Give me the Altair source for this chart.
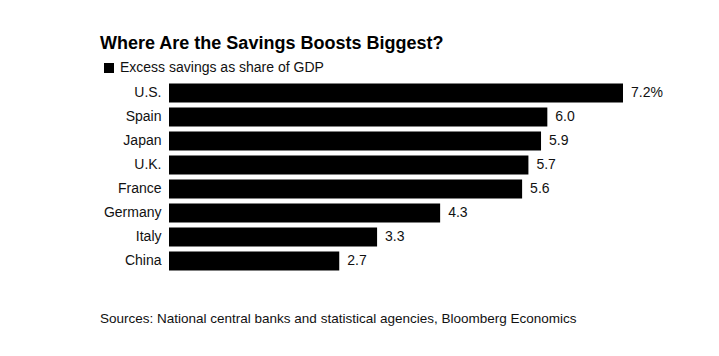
import altair as alt
import pandas as pd

countries = ["U.S.", "Spain", "Japan", "U.K.", "France", "Germany", "Italy", "China"]
values = [7.2, 6.0, 5.9, 5.7, 5.6, 4.3, 3.3, 2.7]
value_labels = ["7.2%", "6.0", "5.9", "5.7", "5.6", "4.3", "3.3", "2.7"]
series_name = "Excess savings as share of GDP"
title_text = "Where Are the Savings Boosts Biggest?"
source_text = "Sources: National central banks and statistical agencies, Bloomberg Economics"

FONT = "Liberation Sans"

df = pd.DataFrame({
    "country": countries,
    "value": values,
    "label": value_labels,
    "series": [series_name] * len(countries),
})

W, H = 454, 192

y_enc = alt.Y(
    "country:N",
    sort=countries,
    title=None,
    scale=alt.Scale(paddingInner=0.21, paddingOuter=0.1),
    axis=alt.Axis(ticks=False, domain=False, labelPadding=8, labelFontSize=14,
                  labelColor="#111111", labelFont=FONT, grid=False),
)
x_enc = alt.X("value:Q", scale=alt.Scale(domain=[0, 7.2], nice=False), axis=None)

bars = alt.Chart(df).mark_bar(color="black").encode(
    x=x_enc,
    y=y_enc,
    color=alt.Color(
        "series:N",
        scale=alt.Scale(range=["black"]),
        legend=alt.Legend(
            title=None, orient="none", legendX=-67, legendY=-20,
            symbolType="square", symbolSize=100, symbolStrokeWidth=0,
            labelFontSize=14, labelFont=FONT, labelColor="#111111",
            labelOffset=4, padding=0, labelLimit=0,
        ),
    ),
)

labels = alt.Chart(df).mark_text(
    align="left", baseline="middle", dx=8, fontSize=14, font=FONT, color="#111111"
).encode(x=x_enc, y=y_enc, text="label:N")

title = alt.Chart(pd.DataFrame({"t": [title_text]})).mark_text(
    align="left", baseline="alphabetic", fontSize=18, fontWeight="bold", font=FONT, color="black"
).encode(x=alt.value(-69), y=alt.value(-32), text="t:N")

footer = alt.Chart(pd.DataFrame({"t": [source_text]})).mark_text(
    align="left", baseline="alphabetic", fontSize=13.5, font=FONT, color="#111111"
).encode(x=alt.value(-69), y=alt.value(H + 50), text="t:N")

chart = alt.layer(bars, labels, title, footer).properties(
    width=W, height=H,
    autosize=alt.AutoSizeParams(type="none"),
    padding={"left": 169, "top": 81, "right": 96, "bottom": 83},
    background="white",
).configure_view(stroke=None)

chart.save("out.html", embed_options={"renderer": "svg", "actions": False})
